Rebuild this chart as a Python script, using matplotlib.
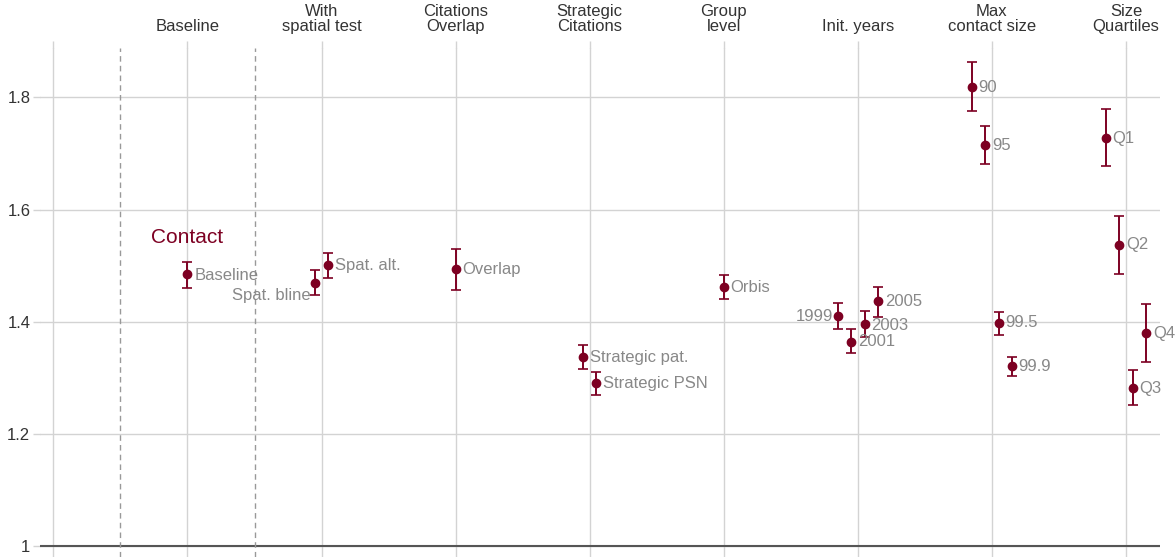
import numpy as np
import matplotlib.pyplot as plt

plt.rcParams['font.family'] = ['Liberation Sans', 'DejaVu Sans']

# group headers (position 0 is left blank)
groups = ['', 'Baseline', 'With\nspatial test', 'Citations\nOverlap', 'Strategic\nCitations',
          'Group\nlevel', 'Init. years', 'Max\ncontact size', 'Size\nQuartiles']

# estimates with confidence bounds
labels = ['Baseline', 'Spat. bline', 'Spat. alt.', 'Overlap', 'Strategic pat.', 'Strategic PSN',
          'Orbis', '1999', '2001', '2003', '2005', '90', '95', '99.5', '99.9',
          'Q1', 'Q2', 'Q3', 'Q4']
group_idx = [1, 2, 2, 3, 4, 4, 5, 6, 6, 6, 6, 7, 7, 7, 7, 8, 8, 8, 8]
coef = [1.485, 1.469, 1.501, 1.494, 1.337, 1.291, 1.462, 1.410, 1.365, 1.396, 1.437,
        1.818, 1.715, 1.398, 1.321, 1.727, 1.537, 1.282, 1.380]
lower = [1.460, 1.447, 1.478, 1.456, 1.316, 1.269, 1.440, 1.387, 1.344, 1.373, 1.408,
         1.775, 1.681, 1.376, 1.303, 1.677, 1.485, 1.251, 1.328]
upper = [1.506, 1.492, 1.522, 1.529, 1.358, 1.310, 1.483, 1.433, 1.387, 1.419, 1.463,
         1.863, 1.749, 1.417, 1.337, 1.779, 1.588, 1.314, 1.431]

red = '#7d0022'
grid_c = '#d3d3d3'

# spread points inside each group
group_idx = np.array(group_idx)
xpos = np.zeros(len(coef))
for g in np.unique(group_idx):
    idx = np.where(group_idx == g)[0]
    n = len(idx)
    xpos[idx] = g + (np.arange(n) - (n - 1) / 2) * 0.1

coef = np.array(coef)
yerr = [coef - np.array(lower), np.array(upper) - coef]

fig = plt.figure(figsize=(11.76, 5.57), dpi=100)
ax = fig.add_axes([40 / 1176, 0, 1120 / 1176, 1 - 48 / 557])

ax.set_xlim(-0.1, 8.254)
ax.set_ylim(0.981, 1.888)

ax.set_xticks(range(len(groups)))
ax.set_xticklabels(groups, fontsize=12, color='#333333', linespacing=1.0)
ax.xaxis.tick_top()
ax.set_yticks([1, 1.2, 1.4, 1.6, 1.8])
ax.set_yticklabels(['1', '1.2', '1.4', '1.6', '1.8'], fontsize=12, color='#333333')
ax.tick_params(axis='both', length=5, color=grid_c, width=1)
ax.tick_params(axis='x', pad=5)
ax.tick_params(axis='y', pad=2)
ax.grid(True, color=grid_c, linewidth=1)
ax.set_axisbelow(True)
for s in ax.spines.values():
    s.set_visible(False)

ax.axhline(1, color='#555555', linewidth=1.5, zorder=1)
for xv in [0.5, 1.5]:
    ax.axvline(xv, color='#999999', linewidth=1, linestyle=(0, (4, 3)), zorder=1)

ax.errorbar(xpos, coef, yerr=yerr, fmt='o', color=red, ecolor=red, markersize=6,
            elinewidth=1.4, capsize=3.5, capthick=1.2, zorder=3)

# labels placed on the left or shifted downward
left_side = {'Spat. bline', '1999'}
drop = {'Spat. bline': -0.022, 'Baseline': -0.003, '2003': -0.003}
for x, y, lab in zip(xpos, coef, labels):
    dy = drop.get(lab, 0)
    if lab in left_side:
        ax.text(x - 0.035, y + dy, lab, ha='right', va='center', fontsize=12, color='#888888')
    else:
        ax.text(x + 0.05, y + dy, lab, ha='left', va='center', fontsize=12, color='#888888')

ax.text(0.73, 1.551, 'Contact', fontsize=15, color=red, ha='left', va='center')

fig.savefig('out.png', dpi=100)
